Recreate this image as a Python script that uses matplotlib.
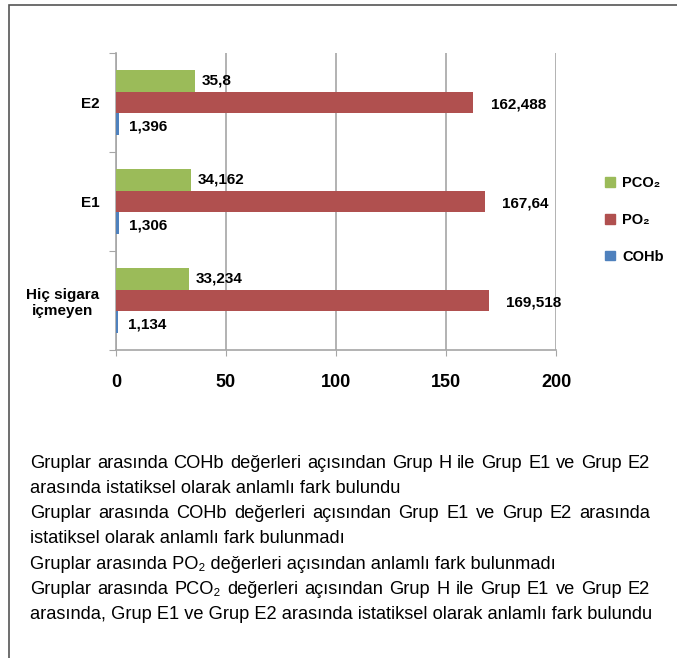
import matplotlib
matplotlib.use("Agg")
import matplotlib.pyplot as plt
from matplotlib.patches import Rectangle, Patch
import numpy as np

# ==========================================================
# DATA
# ==========================================================

groups = ["Hiç sigara\niçmeyen", "E1", "E2"]

pco2 = [33.234, 34.162, 35.8]
po2 = [169.518, 167.64, 162.488]
cohb = [1.134, 1.306, 1.396]

pco2_labels = ["33,234", "34,162", "35,8"]
po2_labels = ["169,518", "167,64", "162,488"]
cohb_labels = ["1,134", "1,306", "1,396"]

x_ticks = [0, 50, 100, 150, 200]

notes = [
    "Gruplar arasında COHb değerleri açısından Grup H ile Grup E1 ve Grup E2",
    "arasında istatiksel olarak anlamlı fark bulundu",
    "Gruplar arasında COHb değerleri açısından Grup E1 ve Grup E2 arasında",
    "istatiksel olarak anlamlı fark bulunmadı",
    "Gruplar arasında PO₂ değerleri açısından anlamlı fark bulunmadı",
    "Gruplar arasında PCO₂ değerleri açısından Grup H ile Grup E1 ve Grup E2",
    "arasında, Grup E1 ve Grup E2 arasında istatiksel olarak anlamlı fark bulundu",
]
justified = [True, False, True, False, False, True, False]

# ==========================================================
# STYLE
# ==========================================================

GREEN = "#9BBB59"
RED = "#B0504F"
BLUE = "#4F81BD"
GRID = "#A6A6A6"

SANS = ["Liberation Sans", "DejaVu Sans"]

plt.rcParams["font.family"] = SANS

W, H = 677, 658

fig = plt.figure(figsize=(W / 100, H / 100), dpi=100)

ax = fig.add_axes([116 / W, 1 - 350 / H, 440 / W, 297 / H])

# ==========================================================
# BARS
# ==========================================================

y = np.arange(len(groups))
bh = 0.222

ax.barh(y + bh, pco2, height=bh, color=GREEN, zorder=3)
ax.barh(y, po2, height=bh, color=RED, zorder=3)
ax.barh(y - bh, cohb, height=bh, color=BLUE, zorder=3)

for vals, labels, off, dy in [
    (pco2, pco2_labels, 5, bh),
    (po2, po2_labels, 12.5, -0.02),
    (cohb, cohb_labels, 7, -bh - 0.02),
]:
    for i in range(len(vals)):
        ax.annotate(
            labels[i],
            xy=(vals[i], y[i] + dy),
            xytext=(off, 0),
            textcoords="offset points",
            ha="left",
            va="center",
            fontsize=11,
            fontweight="bold",
            zorder=4,
        )

# ==========================================================
# AXES
# ==========================================================

ax.set_xlim(0, 200)
ax.set_ylim(-0.5, 2.5)

ax.set_xticks(x_ticks)
ax.set_xticklabels([str(t) for t in x_ticks], fontsize=13, fontweight="bold")
ax.tick_params(axis="x", length=4, color=GRID, pad=13)

ax.set_yticks([-0.5, 0.5, 1.5, 2.5])
ax.set_yticklabels([])
ax.tick_params(axis="y", which="major", length=5, color=GRID)

ax.set_yticks(y, minor=True)
ax.set_yticklabels(groups, minor=True, fontsize=11, fontweight="bold")
ax.tick_params(axis="y", which="minor", length=0, pad=12)
for lbl in ax.get_yticklabels(minor=True):
    lbl.set_multialignment("center")

ax.grid(axis="x", color=GRID, linewidth=1.2, zorder=0)

for side in ["top", "right"]:
    ax.spines[side].set_visible(False)
for side in ["left", "bottom"]:
    ax.spines[side].set_color(GRID)
    ax.spines[side].set_linewidth(1.2)

handles = [
    Patch(color=GREEN, label="PCO₂"),
    Patch(color=RED, label="PO₂"),
    Patch(color=BLUE, label="COHb"),
]
fig.legend(
    handles=handles,
    loc="center left",
    bbox_to_anchor=(592 / W, 1 - 220 / H),
    frameon=False,
    handlelength=0.65,
    handleheight=0.65,
    handletextpad=0.5,
    labelspacing=1.55,
    prop={"weight": "bold", "size": 10.5},
)

# ==========================================================
# OUTER FRAME
# ==========================================================

fig.add_artist(
    Rectangle(
        (9 / W, -0.05),
        1.2,
        1 - 5 / H + 0.05,
        transform=fig.transFigure,
        fill=False,
        edgecolor="#555555",
        linewidth=1.2,
    )
)

# ==========================================================
# NOTES (justified text)
# ==========================================================

renderer = fig.canvas.get_renderer()


def text_width(s, size):
    t = fig.text(0, 0, s, fontsize=size)
    w = t.get_window_extent(renderer).width
    t.remove()
    return w


left_px = 30
right_px = 650
top_px = 463
step_px = 25.3

fs = 12 * 612 / text_width(notes[0], 12)
fs = min(fs, 12 * 640 / text_width(notes[-1], 12))

for i, line in enumerate(notes):
    yy = 1 - (top_px + step_px * i) / H
    if not justified[i]:
        fig.text(left_px / W, yy, line, fontsize=fs, ha="left", va="center")
        continue
    words = line.split(" ")
    widths = [text_width(wd, fs) for wd in words]
    gap = (right_px - left_px - sum(widths)) / (len(words) - 1)
    xpos = left_px
    for wd, wdt in zip(words, widths):
        fig.text(xpos / W, yy, wd, fontsize=fs, ha="left", va="center")
        xpos += wdt + gap

fig.savefig("out.png", dpi=100)
